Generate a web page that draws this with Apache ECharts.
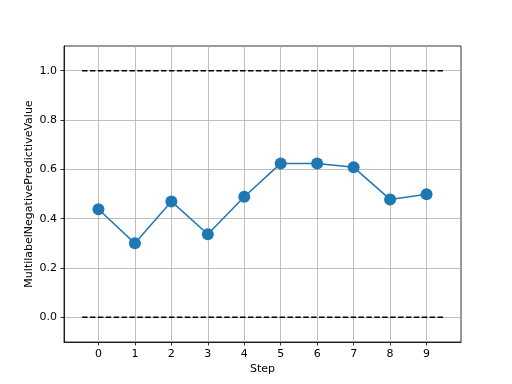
<!DOCTYPE html>
<html><head><meta charset="utf-8">
<script src="https://cdn.jsdelivr.net/npm/echarts@6/dist/echarts.min.js"></script>
<style>html,body{margin:0;padding:0;background:#fff}#c{width:512px;height:384px}</style>
</head><body><div id="c"></div>
<script>
var steps = [0,1,2,3,4,5,6,7,8,9];
var values = [0.438,0.300,0.470,0.337,0.489,0.624,0.624,0.608,0.478,0.499];
var xTicks = [0,1,2,3,4,5,6,7,8,9];
var yTicks = [0.0,0.2,0.4,0.6,0.8,1.0];
var refLevels = [0.0,1.0];
var refSpan = [-0.45,9.45];

var font = 'DejaVu Sans';
var series = [];
refLevels.forEach(function(l){
  series.push({type:'line', data:[[refSpan[0],l],[refSpan[1],l]], symbol:'none', silent:true,
    lineStyle:{color:'#000',width:1.5,type:[5.5,2.4]}, z:3});
});
series.push({type:'line', data: steps.map(function(s,i){return [s,values[i]];}),
  symbol:'circle', symbolSize:12, showSymbol:true,
  lineStyle:{color:'#1f77b4',width:1.5}, itemStyle:{color:'#1f77b4'}, z:4});

var chart = echarts.init(document.getElementById('c'), null, {renderer:'canvas'});
chart.setOption({
  animation:false,
  grid:{left:64, right:51, top:46, bottom:42, show:true, borderColor:'#000', borderWidth:0.8, containLabel:false},
  xAxis:{type:'value', min:-0.945, max:9.945,
    name:'Step', nameLocation:'middle', nameGap:22, nameMoveOverlap:false,
    nameTextStyle:{fontFamily:font,fontSize:11,color:'#000'},
    axisLine:{show:true,onZero:false,lineStyle:{color:'#000',width:0.8}},
    axisTick:{show:true,length:3.5,inside:false,customValues:xTicks,lineStyle:{color:'#000',width:0.8}},
    axisLabel:{customValues:xTicks,fontFamily:font,fontSize:11,color:'#000',margin:7},
    splitLine:{show:true,lineStyle:{color:'#b0b0b0',width:0.8}}
  },
  yAxis:{type:'value', min:-0.1, max:1.1,
    name:'MultilabelNegativePredictiveValue', nameLocation:'middle', nameGap:29, nameRotate:90, nameMoveOverlap:false,
    nameTextStyle:{fontFamily:font,fontSize:11,color:'#000'},
    axisLine:{show:true,onZero:false,lineStyle:{color:'#000',width:0.8}},
    axisTick:{show:true,length:3.5,customValues:yTicks,lineStyle:{color:'#000',width:0.8}},
    axisLabel:{customValues:yTicks,fontFamily:font,fontSize:11,color:'#000',margin:7,
      formatter:function(v){return v.toFixed(1);}},
    splitLine:{show:true,lineStyle:{color:'#b0b0b0',width:0.8}}
  },
  series:series
});
</script></body></html>
